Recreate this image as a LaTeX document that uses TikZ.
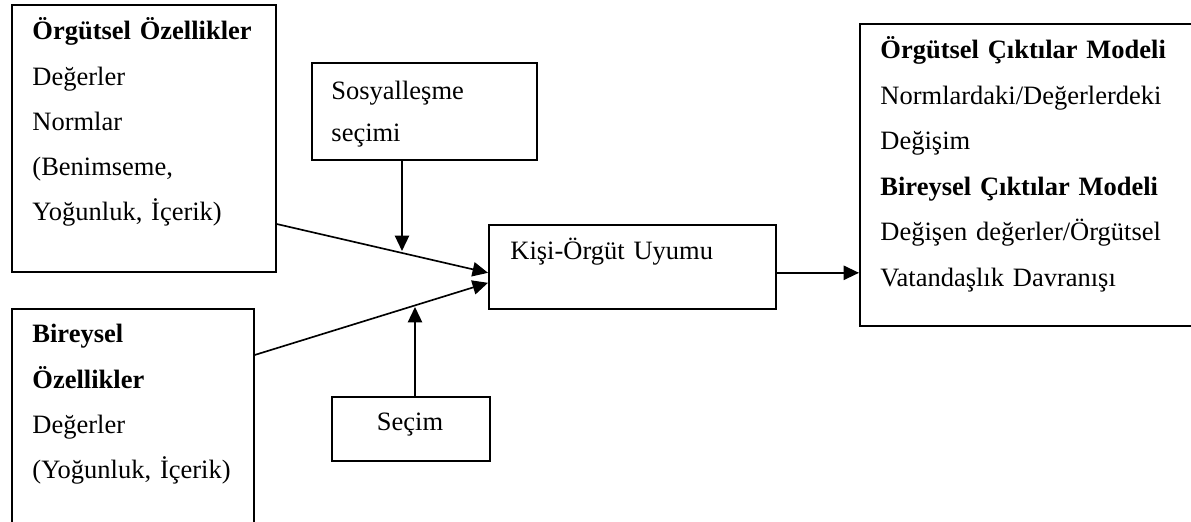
\documentclass[tikz,border=0pt]{standalone}
\usepackage{fontspec}
\setmainfont{Liberation Serif}
\usepackage{tikz}
\usetikzlibrary{arrows.meta, calc}
\def\pxu{0.453pt}
\tikzset{
    blockBox/.style={
        draw=black,
        line width=0.75pt,
        inner sep=0pt,
        anchor=north west
    },
    blockText/.style={
        anchor=base west,
        align=left,
        inner sep=0pt,
        text width=160pt,
        font=\fontsize{12pt}{20.4pt}\selectfont
    },
    flowArrow/.style={
        line width=0.75pt,
        -{Triangle[length=7pt, width=6.5pt]}
    }
}

\begin{document}
\begin{tikzpicture}[x=0.453pt, y=-0.453pt]
            \useasboundingbox (0,0) rectangle (1191,522);

            % Boxes
            \node[blockBox, minimum width=264*\pxu, minimum height=267*\pxu] (orgOz) at (11,4) {};
            \node[blockBox, minimum width=242*\pxu, minimum height=227*\pxu] (birOz) at (11,308) {};
            \node[blockBox, minimum width=225*\pxu, minimum height=97*\pxu] (sosSec) at (311,62) {};
            \node[blockBox, minimum width=287*\pxu, minimum height=84*\pxu] (kpoUy) at (488,224) {};
            \node[blockBox, minimum width=158*\pxu, minimum height=64*\pxu] (secim) at (331,396) {};
            \node[blockBox, minimum width=341*\pxu, minimum height=302*\pxu] (cikti) at (859,23) {};

            % Texts
            \node[blockText] (orgTxt) at (32,40) {\textbf{Örgütsel Özellikler}\\Değerler\\Normlar\\(Benimseme,\\Yoğunluk, İçerik)};
            \node[blockText] (birTxt) at (32,343) {\textbf{Bireysel}\\\textbf{Özellikler}\\Değerler\\(Yoğunluk, İçerik)};
            \node[blockText, font=\fontsize{12pt}{19pt}\selectfont] (sosTxt) at (331,100) {Sosyalleşme\\seçimi};
            \node[blockText] (kpoTxt) at (510,260) {Kişi-Örgüt Uyumu};
            \node[blockText, anchor=base, align=center, text width=] (secTxt) at (410,431) {Seçim};
            \node[blockText, font=\fontsize{12pt}{20.6pt}\selectfont] (ciktiTxt) at (880,59) {\textbf{Örgütsel Çıktılar Modeli}\\Normlardaki/Değerlerdeki\\Değişim\\\textbf{Bireysel Çıktılar Modeli}\\Değişen değerler/Örgütsel\\Vatandaşlık Davranışı};

            % Arrow end points
            \coordinate (kpoIn1) at ($(kpoUy.west)+(0,6)$);
            \coordinate (kpoIn2) at ($(kpoUy.west)+(0,16)$);
            \coordinate (birOut) at ($(birOz.north east)+(0,47)$);
            \coordinate (sosTip) at (402,251);
            \coordinate (secTip) at (415,307);

            % Arrows
            \draw[flowArrow] (orgOz.east |- kpoUy.north) -- (kpoIn1);
            \draw[flowArrow] (birOut) -- (kpoIn2);
            \draw[flowArrow] (sosTip |- sosSec.south) -- (sosTip);
            \draw[flowArrow] (secTip |- secim.north) -- (secTip);
            \draw[flowArrow] (kpoIn1 -| kpoUy.east) -- (kpoIn1 -| cikti.west);
        \end{tikzpicture}
\end{document}
